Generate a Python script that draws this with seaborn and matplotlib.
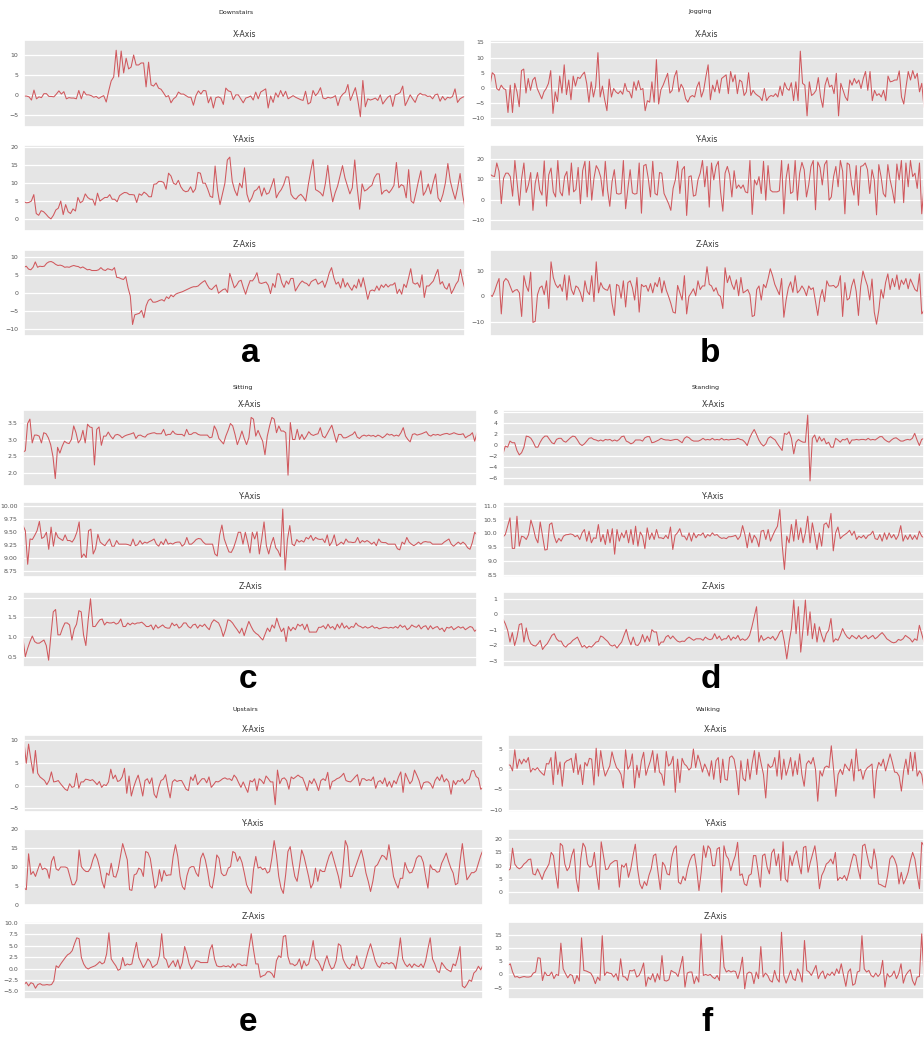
import numpy as np
import matplotlib
matplotlib.use("Agg")
import matplotlib.pyplot as plt
import seaborn as sns

# === Accelerometer samples per activity ===
downstairs_x = [-0.3, -0.3, -0.5, -1.3, 1.2, -1, -0.5, -0.7, 0.3, 0.3, -0.4, -0.4, -0.5, 0.2, 1, 0.2, 0.8, -1, -0.7, -0.8,
                -0.8, -1, 1.1, -1, 0.9, 0, 0, -0.2, -0.6, -0.4, -0.9, -0.5, -0.2, -1.8, 1, 3.5, 4.5, 11.2, 4.5, 11,
                5.5, 9.2, 6.5, 7, 10, 7.5, 7.5, 8, 8, 2, 8.2, 2.5, 2.2, 3, 1.7, 1.4, 0.5, -0.5, -0.2, -2,
                -1, -0.5, 0.7, 0.2, 0.2, -0.2, -0.6, -0.6, -2.6, -0.2, 1, 0.2, 1.1, 1, -2, -0.5, -3.3, -0.7, -0.5, -0.8,
                -2.4, 1.7, 1, 0.8, -1.2, 0,
                0, -1, -2, -0.8, -0.6, -0.3, -1.3, 0.7, -1, 0.7, 1.1, 1.5, -3.3, -0.3, -1.9, 0.5, -0.6, 1.1, -0.4, 0.9,
                -1, -0.6, -0.2, -0.6, -0.9, -1.2, -1.4, 0.9, -2.3, -1.9, 1.1, -0.2, 0.5, 1.8, -0.8, -1, -0.6, -0.8, -0.6, -0.2,
                -2.7, -0.6, 0.2, 0.7, 2.6, -1.4, 0.2, 1.8, -1.4, -5.5, 3.6, -3, -1, -1.3, -1.1, -0.8, -1.4, 0, -2.3, -1.4,
                -0.6, -0.2, -2.9, 0, 0.2, 0.6, 2.2, -2.7, -1.4, 0, -1, -1.9, -0.2, 0.4, 0, 0, -0.4, -0.3, -1, 0,
                0.2, -1.6, -0.4, -1.3, -0.6, -0.8, -0.4, 1.5, -1.9, -1, -0.6, -0.4]
downstairs_y = [4.8, 4.5, 4.6, 5, 6.8, 1.5, 1, 2.3, 2, 1.3, 0.5, 0, 1, 2.5, 3, 5, 1.2, 4, 2, 1.5,
                2.8, 2.2, 6, 4.5, 5, 7, 6, 5.5, 5.5, 3.8, 7.2, 5, 5.5, 6, 6, 6.8, 5.5, 5.5, 4.8, 6.5,
                7, 7.4, 7.3, 6.8, 6.8, 6.7, 4.6, 7, 6.6, 7.5, 7, 6.2, 6.2, 9.7, 9.8, 10.5, 10.5, 10.2, 8.3, 12.8,
                12, 10, 9.6, 10.8, 9, 8, 7.6, 7.8, 9, 7.4, 8.4, 13, 12.8, 10, 10, 8.3, 6.3, 6, 14.8, 8,
                4, 7, 10, 16.5, 17.3, 10.5, 8, 6.5, 10,
                8.7, 14.3, 6.9, 4.7, 5.9, 7.8, 8.2, 9.2, 6.4, 8.7, 6.9, 7.3, 9.2, 11.3, 5.9, 7.3, 8.2, 9.6, 11.8, 11.7,
                6.9, 5.9, 5.5, 6.4, 6.9, 6.1, 5, 9.4, 13.3, 16.6, 8.2, 7.8, 7.3, 6.4, 9.9, 15, 8.7, 4.8, 7.3, 9.2,
                12, 14.9, 11.5, 9.2, 7, 8.7, 16.5, 8.7, 2.7, 9.8, 7.8, 8.2, 8.9, 9.4, 11.5, 12.6, 12.6, 6.9, 7.8, 8.1,
                7.3, 8.2, 9.4, 15.8, 8.7, 9.6, 9.2, 5.9, 13.8, 5, 4.4, 7.3, 10.6, 13.5, 6.6, 7.8, 9.8, 7, 10.1, 12.6,
                5.9, 4.8, 6.9, 10.1, 15.5, 10.6, 7.8, 5.5, 8.7, 12.7, 6.9, 3.1]
downstairs_z = [7.2, 7.5, 6.7, 6.5, 7.2, 8.7, 7.2, 7.5, 7.4, 7.5, 8.3, 8.7, 8.8, 8.5, 8, 7.7, 7.8, 7.6, 7.2, 7.3,
                7.2, 7.5, 7.7, 7.5, 7.4, 7, 7.3, 6.9, 6.5, 6.6, 6.3, 6.3, 6.3, 6.5, 7.1, 6.5, 6.3, 6.8, 6.6, 6.4,
                7.1, 4.4, 4.3, 4.0, 3.8, 4.6, 1.5, -0.8, -8.7, -6, -5.8, -5.6, -4.8, -6.8, -3.5, -2, -1.6, -2.5, -2.5, -2.3,
                -2, -1.8, -2.2, -1, -1.5, -0.5, -1, -0.3, 0, 0.2, 0.4, 0.7, 1, 1.3, 1.6, 1.8, 1.8, 2, 2.6, 3.1,
                3.5, 2.3, 1.3, 1, 1.7, 2.3, 0, 0.5, 1, 1.2, 0.2, 5.5, 3.5, 1.5, 2.2, 3.3, 3.6, 1.5, -0.3, 1.8, 3.5,
                3.4, 4.3, 5.7, 2.9, 2.7, 2.9, 3.1, 2.2, -0.1, 2.7, 1.6, 5.4, 5.3, 2.9, 1.6, 3.4, 2.5, 4.1, 4.1, 0.6,
                1.7, 2.7, 3.4, 2.9, 2.7, 2, 3.2, 3.6, 3.9, 2.5, 2.9, 3.4, 1.6, 3.4, 5.7, 7.1, 4.3, 2.5, 3.1, 1.4,
                4.1, 1.7, 2.9, 1.7, 0.8, 2.3, 1.4, 3.9, 1.7, 4.3, 1.4, -1.7, 0.6, 0.9, 0.6, 2, 0.8, 2.3, 1.6, 2.5,
                1.7, 2.3, 2.3, 2.9, -0.1, 1.1, -0.3, 2.5, 1.6, 4.1, 6.8, 2.9, 2.5, 2.9, 1.6, 5.1, -1.2, 2, 2, 2.7,
                3.4, 5.1, 6.6, 2.5, 3.2, 1.6, 1.1, 2.7, -0.1, 1.1, 2.5, 3.4, 6.6, 3.4, 1.1]

jogging_x = [0.9, 5, 4.3, -0.2, -0.8, 0.9, -0.2, -0.6, -8.1, 0.9, -8.1, 1.5, -1.3, -6.2, 5.7, 6.2, -1.7, 3.1, -0.8, 2.6,
             3.5, -0.2, -1.9, -3.6, -1.3, -0.2, 1.5, 5.7, -8.4, -1.3, -4.5, 3.9, -1.7, 7.6, -2.2, 2.6, -3.9, 3.9, 0.6, 3.5,
             3.1, 4.3, 5.2, 1.5, -4.7, 2, -3, 0.6, 11.6, -3, 0.6, -3.9, -7.5, 2.9, -3, -0.2, -1.3, -1.9, -1, -2.1,
             1.5, -1, -1.3, -3.3, 2, -0.8, 2.4, -0.6, -0.2, -7.5, -4.2, -4.7, 2, -4.7, 9.3, -5.3, -0.6, 0.9, 2.8, 4.8,
             -1.7, -0.8, 3.7, 5.7, -1.3, 1.2, -0.2, -3.6, -4.7, -3, -2.5, -3, 0.3, 2,
             -3, -0.8, 3.7, 7.6, -3.9, 0.9, -1.3, 2.6, -1.7, 3.1, 3.7, 4.3, -1.9, 5.4, 2, 4.3, -1.9, 2.6, 2, -2.5,
             -1.3, 5, -2.5, -0.8, -1.9, -2.5, -3, -4.2, -0.2, -4.2, -3, -2.5, -2.8, -1.9, -3, 0.6, -2.5, 1.7, -0.2, -0.8,
             1.7, -4.2, 2, -4.2, 12.1, 1.5, 0.9, -9.2, 2, -2.5, -1.9, -0.8, 3.4, -3, -6.4, 0.9, 3.4, 0.3, 0.9, -1.9,
             4.8, -9.2, 1.5, -0.8, -3, -4.2, 2.6, 0.9, 3.1, 1.5, 2.6, -0.2, 3.1, 5.4, -0.8, 5.4, -4.2, -0.8, -2.5, -1.9,
             -3, -0.8, -4.2, 3.9, 2, 2.2, 2.6, 2.6, 5.6, -3, -5.3, 0.3, 5.4, 2.6, 5.7, 3.1, 4.8, -1.3, 1.5, -6.4]
jogging_y = [12.5, 11.7, 11.3, 18, 13.8, -2, 10.5, 13, 13, 11.3, 1.7, 19.2, 8, -2.8, 10.5, 18, 3.5, 7.2, 13.3, -5.3,
             8, 13.3, 4.7, 2.2, 19, -3.2, 12.2, 15.5, 3.8, 1.3, 19.2, 3.8, 1.8, 11.3, 13.8, 2.2, 18, 3.8, 5, 15.8,
             -2, 14.3, 18.8, 1.3, 18.8, -0.3, 10.5, 16.7, 14.7, 11, 1.7, 18.8, 4.7, -3.3, 8.8, 14.7, 3, 2.7, 3, 19.2,
             -4.5, 5.5, 14.7, 3.3, 2.7, 3, 18, -6.7, 16.7, 17.3, 10.5, 1.3, 18.8, 3, 2.2, 13.3, 13, 3, 0.5, -2,
             -5.3, 5.5, 9.7, 18.8, 3, 14.7, 16.3, -7.8, 11.3, 11.7, 1.7, 2.2, 9.7, 13, 19.2,
             6.3, 16.3, -3.7, 18, 9.7, 16.3, 18.8, 3.8, -5.7, 13, 16.3, 12.2, 1.3, 14.2, 5.5, 7.2, 5.5, 7.2, 3.8, 3.3,
             19.2, -7.3, 9.7, 7.2, 11.3, 3, 18.8, -0.3, 16.7, 4.7, 3.8, 3.8, 3.8, 4.3, 19.2, -7, 10.5, 17.5, 3, 3.8,
             19.2, -0.3, 13, 18.3, 14.7, 1.3, 7.2, 16.3, 19.2, -5, 18.5, 15.8, 7.2, 17.2, 19.2, -0.3, 1.3, 11.3, 16.3, 6.3,
             19.2, 14, -7, 18, 17.2, 7.2, 2.2, 16.7, -2.8, 16.3, 16.7, 18, 14.7, 3, 14.7, 9.7, -7.5, 17.2, 11.3, 3,
             1.3, 17.2, 9.7, 4.7, -1.7, 17.5, 9.7, 19.2, -1.5, 18, 6.3, 19.2, 11.3, 13, 5.5, 18, -7, 6.3]
jogging_z = [0.7, 0, 2, 4.7, 7, -6.8, 5.7, 7, 6.1, 3.8, 1.6, 2.4, 2.7, 1.4, -7.8, 8.1, 4.1, 2, 9.5, -10.1,
             -9.7, 0.7, 3.4, 4.1, 0.7, 6.1, -4.7, 13.5, 7.4, 4.7, 3.4, 4.7, 2, 8.4, -1.4, 8.1, 2.7, 0.7, 4.1, 3.4,
             1.4, -2, 6.1, 2, 0.7, 8.1, -2, 13.5, 1.4, 5.4, 3.4, 2.7, 2.4, 4.7, -2.7, -7.4, 4.7, 4.1, -0.7, 6.1,
             -4.1, 5.4, 6.1, 3.4, -1.4, 7.4, -6.1, 4.7, 3.8, 4.3, 2, 5, 1.4, 5.4, 3.8, 7.4, 1.4, 6.1, 2.4, 0,
             -2.7, -6.1, -6.5, 4.3, 1.4, -1.4, 8.1, -6.8, 0, 1.4, 3, 0.3, 6.1, 2.7, 4.1,
             4.1, 11.6, 4.7, 4.1, 2, 3.4, 0.7, 0, -4.7, 11.2, 5.4, 8.1, 4.7, 2.7, 6.5, 0.3, 7.4, 1.4, 2, 2.7,
             0.7, -7.8, -7.4, 2.7, 4.1, -1.4, 4.7, 3.4, 6.8, 10.8, 8.1, 4.7, 2.7, 0.7, 7, -8.1, -1.4, 3.4, 5.7, 1.6,
             8.1, 1.4, 2.4, 4.1, 2.7, 0.3, 4.1, 2.7, 3.4, -2, -7.4, -0.7, 2.7, -2, 6.1, 4.1, 4.1, 4.3, 3.4, 4.3,
             8.1, -7.8, 5.4, -1.4, -0.7, 4.1, 6.8, 2, -7.4, 4.1, 9.9, 6.8, 4.1, -1.4, 6.8, -6.1, -10.8, -5.4, 2.7, -0.7,
             5.4, 8.8, 2.7, 7, 3.8, 8.4, 2.7, 6.4, 4.7, 7, 3, 6.8, 4.7, 2.7, 2, 8.8, -6.8, -5.4]

sitting_x = [2.63, 2.67, 3.47, 3.6, 2.9, 3.13, 3.13, 3.1, 2.9, 3.2, 3.17, 3.05, 2.85, 2.5, 1.85, 2.77, 2.6, 2.8, 2.95, 2.9,
             2.88, 3, 3.4, 3.2, 2.9, 3, 3.27, 2.9, 3.45, 3.37, 3.35, 2.25, 3.3, 3.37, 2.83, 3.1, 3.1, 3.22, 3.1, 3.02,
             3.13, 3.15, 3.12, 3.05, 3.1, 3.13, 3.15, 3.17, 3.2, 3.03, 3.12, 3.13, 3.09, 3.07, 3.15, 3.17, 3.19, 3.2, 3.17, 3.17,
             3.17, 3.3, 3.12, 3.15, 3.15, 3.25, 3.17, 3.15, 3.15, 3.15, 3.1, 3.3, 3.15, 3.15, 3.2, 3.2, 3.15, 3.13, 3.13, 3.13,
             3.13, 3.05, 3.07, 3.4, 3.27, 3.03, 2.95, 2.87, 3.1, 3.27, 3.47, 3.4, 3.15, 2.85, 3.03,
             3.25, 3.03, 2.85, 3.05, 3.65, 3.6, 3.1, 3.27, 3.1, 2.95, 2.55, 3.1, 3.4, 3.65, 3.6, 3.2, 3.4, 3.25, 3.25, 3.2,
             1.95, 3.5, 3, 3, 3.3, 3, 3.15, 3, 3.1, 3.23, 3.15, 3.12, 3.15, 3.17, 3.35, 3.1, 3.05, 3.17, 3.3, 3.42,
             3.17, 2.92, 3.15, 3.15, 3.05, 3.05, 3.08, 3.12, 3.15, 3.23, 3.07, 3.03, 3.1, 3.13, 3.1, 3.13, 3.1, 3.12, 3.08, 3.13,
             3.1, 3.05, 3.1, 3.17, 3.13, 3.15, 3.1, 3.13, 3.1, 3.2, 3.35, 3.1, 3, 2.93, 3.15, 3.17, 3.13, 3.15, 3.17, 3.2,
             3.23, 3.13, 3.1, 3.15, 3.13, 3.15, 3.12, 3.15, 3.17, 3.18, 3.15, 3.17, 3.2, 3.17, 3.15, 3.15, 3.17, 3.05, 3.1, 3.13,
             3.2, 2.95, 3.2]
sitting_y = [9.63, 9.53, 8.88, 9.37, 9.36, 9.44, 9.53, 9.71, 9.38, 9.41, 9.5, 9.17, 9.6, 9.23, 9.5, 9.4, 9.37, 9.34, 9.45, 9.34,
             9.34, 9.31, 9.38, 9.5, 9.7, 9.01, 9.08, 9.01, 9.53, 9.56, 9.08, 9.18, 9.46, 9.31, 9.27, 9.24, 9.31, 9.37, 9.23, 9.23,
             9.34, 9.27, 9.27, 9.27, 9.27, 9.26, 9.24, 9.37, 9.24, 9.26, 9.34, 9.27, 9.31, 9.29, 9.32, 9.34, 9.37, 9.27, 9.23, 9.32,
             9.26, 9.37, 9.27, 9.29, 9.27, 9.3, 9.31, 9.31, 9.23, 9.27, 9.4, 9.27, 9.27, 9.31, 9.36, 9.38, 9.37, 9.31, 9.27, 9.27,
             9.27, 9.27, 9.08, 9.04, 9.44, 9.64, 9.37, 9.24, 9.12, 9.11, 9.2, 9.34, 9.5,
             9.5, 9.27, 9.5, 9.31, 9.1, 9.5, 9.37, 9.51, 9.08, 9.37, 9.7, 9.24, 9.08, 9.27, 9.4, 9.2, 9.14, 9.03, 9.95, 8.77,
             9.36, 9.63, 9.27, 9.24, 9.36, 9.31, 9.34, 9.31, 9.4, 9.37, 9.44, 9.34, 9.4, 9.37, 9.36, 9.37, 9.3, 9.45, 9.24, 9.31,
             9.45, 9.24, 9.27, 9.31, 9.27, 9.37, 9.31, 9.31, 9.3, 9.31, 9.4, 9.29, 9.34, 9.31, 9.34, 9.31, 9.27, 9.31, 9.24, 9.37,
             9.31, 9.3, 9.3, 9.27, 9.27, 9.27, 9.27, 9.18, 9.16, 9.31, 9.27, 9.4, 9.31, 9.27, 9.24, 9.27, 9.31, 9.27, 9.31, 9.32,
             9.31, 9.31, 9.27, 9.27, 9.27, 9.27, 9.27, 9.31, 9.34, 9.37, 9.27, 9.23, 9.27, 9.31, 9.27, 9.31, 9.27, 9.2, 9.17,
             9.3, 9.5, 9.45]
sitting_z = [0.97, 0.51, 0.72, 0.89, 1.03, 0.89, 0.85, 0.85, 0.89, 0.93, 0.79, 0.42, 1.06, 1.64, 1.7, 1.06, 1.06, 1.23, 1.36, 1.36,
             1.31, 0.93, 1.21, 1.33, 1.67, 1.64, 1.06, 0.79, 1.44, 1.97, 1.27, 1.27, 1.36, 1.44, 1.46, 1.31, 1.38, 1.36, 1.36, 1.38,
             1.33, 1.36, 1.46, 1.27, 1.27, 1.36, 1.31, 1.36, 1.33, 1.36, 1.36, 1.38, 1.33, 1.27, 1.27, 1.31, 1.19, 1.31, 1.23, 1.27,
             1.31, 1.25, 1.23, 1.23, 1.36, 1.29, 1.33, 1.23, 1.27, 1.36, 1.36, 1.27, 1.23, 1.31, 1.33, 1.23, 1.31, 1.27, 1.33, 1.25,
             1.19, 1.36, 1.44, 1.4, 1.36, 1.23, 1.02, 1.19, 1.44, 1.42, 1.36, 1.27, 1.19, 1.1,
             1.23, 1.04, 1.23, 1.4, 1.27, 1.16, 1.1, 1.06, 0.99, 0.93, 1.08, 1.23, 1.14, 1.31, 1.23, 1.48, 1.29, 1.14, 1.23, 0.89,
             1.27, 1.16, 1.25, 1.19, 1.33, 1.28, 1.33, 1.19, 1.33, 1.13, 1.13, 1.13, 1.13, 1.25, 1.25, 1.29, 1.21, 1.33, 1.23, 1.27,
             1.19, 1.33, 1.23, 1.36, 1.23, 1.29, 1.21, 1.27, 1.25, 1.36, 1.29, 1.27, 1.23, 1.27, 1.23, 1.25, 1.29, 1.23, 1.25, 1.21,
             1.23, 1.25, 1.25, 1.23, 1.25, 1.23, 1.27, 1.23, 1.31, 1.25, 1.29, 1.19, 1.23, 1.31, 1.27, 1.25, 1.31, 1.21, 1.27, 1.29,
             1.19, 1.29, 1.21, 1.25, 1.27, 1.19, 1.23, 1.14, 1.25, 1.23, 1.27, 1.19, 1.23, 1.27, 1.23, 1.26, 1.19, 1.23, 1.27,
             1.25, 1.15, 1.2]

standing_x = [-1.6, -0.2, -0.4, 0.7, 0.4, 0.4, -1, -1.8, -1.4, -0.4, 1.6, 1.5, 1.2, 0.5, -0.4, -0.4, 0.5, 1.2, 1.6, 1.6,
              1, 0.4, 0.2, 1, 1.2, 1.2, 0.7, 0.5, 0.9, 1.3, 1.6, 1.5, 0.9, 0.2, -0.1, 0.2, 0.7, 1.2, 1.3, 1,
              0.9, 0.7, 0.9, 0.7, 1, 0.9, 1, 0.7, 0.9, 0.7, 1, 1.5, 1.6, 0.7, 0.5, 0.2, 0.4, 0.9, 0.9, 0.9,
              0.7, 1.3, 1.5, 1.5, 0.4, 0.5, 0.7, 0.9, 1.2, 1, 0.9, 0.9, 0.8, 0.9, 1, 1, 0.7, 0.4, 1.2, 1.5,
              1.3, 0.9, 0.7, 0.7, 0.7,
              0.9, 1.2, 0.9, 1, 0.9, 1.2, 0.9, 1, 0.9, 1.2, 0.9, 1, 0.9, 1, 1, 1, 1.2, 1, 0.9, 0.5,
              -0.1, 1.2, 2.1, 2.8, 1.9, 0.9, 0.2, -0.2, 0.2, 1.2, 1.5, 1.2, 0.9, 0.2, -0.4, -1, 2.1, 1.9, 2.4, 1.2,
              -1.6, 0.5, 1, 0.7, 0.5, 0.5, 5.4, -6.5, 1.2, 1.8, 0.5, 1.5, 0.7, 1.2, 0.2, 0.5, -0.4, -0.4, 1.2, 0.9,
              0.5, 1, 0.9, 1.2, 0.2, 0.9, 0.9, 1, 0.9, 1, 1, 0.9, 1.2, 0.9, 1, 0.9, 1.2, 1.5, 1.5, 1,
              0.7, 0.5, 0.9, 1.2, 1.3, 1, 0.7, 0.7, 0.9, 1, 0.9, 1.2, 2.1, 0.9, -0.1, 1, 1.2]
standing_y = [9.87, 9.96, 10.26, 10.56, 9.46, 9.46, 10.62, 9.54, 9.9, 9.87, 9.78, 9.96, 10.48, 10.2, 9.84, 9.66, 10.41, 9.9, 9.4, 9.42,
              10.32, 10.38, 9.9, 9.66, 9.82, 9.72, 9.9, 9.95, 9.96, 9.98, 9.96, 9.88, 9.93, 9.78, 10.02, 10.14, 9.72, 10.08, 9.66, 9.84,
              9.82, 10.32, 9.7, 9.96, 9.6, 10.14, 9.66, 10.17, 9.25, 10.14, 9.72, 10.02, 9.84, 10.11, 9.66, 10.14, 9.6, 10.26, 9.54, 10.05,
              9.9, 9.45, 10.2, 9.78, 10.02, 9.78, 10.14, 9.84, 9.84, 9.81, 9.93, 9.81, 10.23, 9.42, 9.93, 10.02, 10.17, 9.9, 9.9, 9.76,
              10.02, 9.72, 10.02, 9.84, 9.96,
              9.93, 10.02, 9.84, 9.96, 9.9, 10.02, 9.93, 9.96, 9.87, 9.82, 9.84, 9.81, 9.88, 9.88, 9.9, 9.93, 9.78, 9.9, 10.28, 9.96,
              9.48, 10.02, 9.66, 9.93, 9.81, 9.52, 10.08, 10.11, 9.78, 10.14, 9.72, 9.93, 10.11, 10.26, 10.86, 9.6, 8.7, 9.9, 9.66, 10.32,
              9.72, 10.5, 9.78, 10.2, 9.66, 10.02, 10.62, 9.66, 10.38, 9.93, 9.42, 10.02, 9.54, 10.32, 10.38, 10.2, 10.72, 9.37, 10.02, 10.23,
              9.81, 9.9, 9.96, 10.02, 10.11, 9.93, 10.08, 9.78, 9.9, 9.84, 9.93, 9.81, 9.93, 9.96, 10.08, 9.81, 9.78, 9.96, 9.72, 10.02,
              9.78, 10.02, 9.84, 9.96, 9.78, 9.93, 10.28, 9.72, 9.93, 9.78, 9.96, 9.78, 9.93, 9.78, 10.08, 9.9, 9.84]
standing_z = [-0.3, -0.6, -1.02, -1.78, -1.17, -2, -1.46, -0.65, -0.59, -1.78, -0.87, -1.57, -1.89, -2, -2.04, -1.89, -1.67, -2.26, -2.04, -1.89,
              -1.63, -1.35, -1.24, -1.57, -1.72, -1.72, -2, -2.11, -1.93, -1.85, -1.67, -1.57, -1.46, -1.78, -2.11, -2, -2.17, -2.04, -2.11, -1.96,
              -1.78, -1.74, -1.39, -1.46, -1.61, -1.74, -1.96, -2.04, -1.96, -2.17, -1.96, -1.78, -1.35, -0.96, -1.57, -1.96, -1.46, -1.96, -2, -1.78,
              -1.3, -1.78, -1.39, -1.74, -0.98, -1.13, -1.13, -2, -1.78, -1.78, -1.46, -1.35, -1.57, -1.39, -1.57, -1.72, -1.78, -1.72, -1.74, -1.57,
              -1.46, -1.57, -1.67, -1.57, -1.57,
              -1.57, -1.67, -1.46, -1.57, -1.63, -1.57, -1.24, -1.57, -1.39, -1.67, -1.57, -1.57, -1.35, -1.67, -1.46, -1.57, -1.35, -1.67, -1.57, -1.67,
              -1.57, -1.35, -0.8, -0.15, 0.5, -1.78, -1.35, -1.67, -1.57, -1.46, -1.57, -1.41, -1.67, -1.46, -1.13, -1.02, -1.78, -2.87, -1.78, -0.91,
              0.93, -1.24, 0.5, -2.43, -0.91, 0.93, -1.35, 0.17, -1.57, -0.59, -1.78, -0.8, -1.35, -1.78, -1.24, -1.02, -0.26, -1.78, -1.57, -1.67,
              -1.35, -0.91, -1.24, -1.46, -1.57, -1.35, -1.46, -1.57, -1.35, -1.57, -1.46, -1.35, -1.57, -1.46, -1.35, -1.57, -1.46, -1.3, -1.17, -1.35,
              -1.57, -1.67, -1.78, -1.83, -1.78, -1.61, -1.67, -1.57, -1.35, -1.46, -1.57, -1.78, -1.57, -1.67, -0.7, -1.24, -1.78]

upstairs_x = [9.5, 4.9, 9.1, 5.7, 2.7, 7.7, 2.7, 1.9, 1.5, 1.1, 0.2, 1.1, 3, 0.8, 0.9, 1.1, 0.4, -0.2, -0.8, -1.1,
              0.4, -0.4, -0.2, 2.7, -0.6, 0.8, 0.8, 1.4, 1.3, 1.1, 1.3, 0.8, 0.2, 0.9, -0.4, 0.2, 0, 0.8, 3.6, 1.5,
              2.3, 0.9, 1.1, 1.9, 3.8, -1.7, 2.1, -2.3, -0.4, 1.1, 2.3, 0.2, -2.3, 1.1, 1.5, 0.4, 1.7, -1.9, -2.7, -0.4,
              1.1, 1.4, 2.4, -0.4, -2.7, 0.8, 1.3, 0.9, 1.1, 1.1, 0.2, -0.8, -1.1, 1.9, 1.1, 2.4, 0.2, 0.9, 1.5, 1.5,
              0.6, 1.9, -0.4, 0.2, 0.9, 0.8, 1.1, 1.5, 1.7, 1.4, 1.5, 1.1, 2.3, 1.7, 0.6, -0.4,
              0.8, -0.4, -1.5, 1.1, 0.8, 1.5, -1.1, 1.5, 1.1, 0.4, 2.1, 1.5, 0.8, 0.8, -4.2, 3.4, 0.4, 1.5, 1.7, 1.1,
              -0.8, 1.9, 1.5, 1.9, 2.3, 1.9, 1.7, 0.4, -1.1, 1.1, 0.4, 1.5, 0.4, -1.1, 1.1, 1.5, 1.1, 2.9, -0.8, 0.9,
              1.1, 1.5, 1.7, 2.1, 2.7, 1.1, 0.9, 0.8, 1.3, 1.9, 2.4, 0, 1.5, 1.5, 1.1, 1.3, 1.1, 1.9, -0.6, 0.8,
              1.1, 0.4, 1.7, -0.2, 0.9, -0.4, 1.1, 0.4, 1.9, 3, -1.5, 2.7, 1.5, 0.4, 1.1, 3.4, 2.3, 1.1, -0.8, 0.6,
              0.8, 0.8, 0.4, -0.6, 1.1, 1.9, 1.1, 2.4, 0.8, 1.5, 0.8, -1.9, 1.1, 0.2, 1.1, 0.9, 1.5, 0.4, 1.1,
              1.4, 3.2, 3.3, 2, 1.6, -0.8, -0.5]
upstairs_y = [4.4, 4, 13.5, 8, 8.8, 7.5, 9.3, 11, 9.3, 9.7, 9.3, 7, 11.5, 12.8, 9.5, 9.1, 10, 10, 10, 9.7,
              7.5, 5.3, 5.3, 6.6, 14.5, 10.1, 9.3, 8.8, 8.8, 9.7, 11.9, 13.5, 12.1, 9.7, 6.2, 4.4, 8.4, 7.8, 11, 7.5,
              7.3, 9.3, 12.8, 16.2, 14.1, 11.9, 4, 3.8, 7.9, 8.2, 9.7, 9.3, 7.5, 14.1, 13.8, 12.3, 8.4, 4.4, 5.3, 9.3,
              6.2, 9.1, 7.7, 7.9, 7.9, 12.8, 15.9, 12.8, 7.5, 4.8, 4, 7.7, 9.7, 10.1, 10.1, 8.4, 7.5, 12.3, 13.7, 11.9,
              8.8, 5, 4.4, 7.9, 13.2, 12.3, 8.4, 7.7, 7.9, 9.7, 10.1, 14.1, 13.7, 11.5, 12.8,
              11.2, 8.4, 5.3, 4, 3.0, 9.3, 12.8, 9.7, 10, 9.3, 9.7, 8.4, 8.8, 12.3, 17, 13.1, 7.5, 4.4, 3.0, 7.9,
              14.1, 15.4, 11, 7.5, 6.2, 10.1, 14.5, 12.8, 10.1, 7.5, 4.4, 5.7, 9.7, 6.2, 9.3, 8.8, 8.8, 11, 13, 14.1,
              11.9, 9.7, 7.5, 4.4, 10.1, 17, 15.4, 7.5, 7.5, 9.3, 11, 12.8, 14.5, 11.9, 8.4, 6.2, 3.5, 6.2, 10.1, 10.6,
              11.9, 13.1, 12.8, 11.9, 15.9, 11.9, 7.5, 5.7, 4.4, 7, 7, 11.2, 9.4, 8.4, 8.6, 10.1, 12.3, 13, 12.8, 11.2,
              7.5, 4.4, 10.6, 9.4, 9.3, 8.6, 8.8, 11, 12.3, 13.7, 11.5, 9.7, 8.4, 5.3, 5.7, 11.5, 16.2, 11, 6.6,
              7.5, 8.5, 8.5, 9, 11, 13, 14.5]
upstairs_z = [-3.5, -3, -3.8, -3.1, -3.3, -4.3, -3.5, -3.3, -3.6, -3.6, -3.5, -3.6, -3.5, -2.7, 0.6, 0.2, 1, 1.7, 2.4, 3,
              3.3, 3.9, 5.4, 6.7, 6.5, 2.4, 1, 0.2, -0.1, 0.2, 0.4, 0.6, 1, 1.5, 1, 1.3, 3.2, 7.8, 2.1, 1.3,
              0.6, -0.4, -0.1, 2.4, 0.6, 1, 0.8, 1, 3.5, 5.7, 2.4, 1.3, 0.2, 1, 2.1, 1.5, 0.2, 0.6, 1, 2.8,
              7.6, 2.4, 1.9, 0.2, 1, 1.7, 0.4, 1.9, -0.1, 1.3, 4.8, 3.2, 1, -0.1, 0.6, 1.7, 1.6, 1.3, 1.3, 1.3,
              1.3, 4.1, 5.2, 2.1, 0.6, 0.4, 0.4, 0.6, 0.4, 0.6, 0.2, 1, 0.2, 1,
              1, 0.6, 0.8, 0.6, 4.3, 7.6, 4.1, 1, 1, -1.9, -1.6, -1.4, -0.7, -0.7, -1.1, -2, 1.7, 2.8, 2.4, 7,
              7.2, 2.6, 1, 1, 0.6, 1, 2.1, -0.1, 1.7, 0.6, 1, 3.2, 6.1, 2.1, 1.7, 0.7, -0.5, 1.3, 2.8, 1,
              -0.1, 0.2, 1.7, 5.4, 5, 2.1, 1, 0.2, -0.1, 1, 0.6, 2.8, 0.6, -0.1, 0.2, 2.1, 3.9, 5.4, 3.6, 1.7,
              0.6, 0.2, 1.3, 1, 1.3, 1, 1.3, 1, -0.1, 2.8, 6.7, 2.1, 1, 0.4, 1, 0.2, 1, 0.6, 0.4, 1,
              0.2, 1.7, 4.3, 6.7, 2.1, 1, -0.5, -0.9, 1.3, 0.6, -0.1, -0.4, -0.7, 1, 0.6, 2.4, 4.8, -3.8, -4.2,
              -3.5, -2.5, -2.8, -1, -0.5, 0.5, -0.3, 0.8]

walking_x = [1.1, 1, -0.4, 4.8, 0.2, 2.5, 1.3, 2.5, 1.7, 2.9, -0.7, 0.2, -0.2, 0.4, -0.4, -1, -1.5, 1.4, 1.3, 2.9,
             -3.8, 4.3, -1.3, 1.8, -4.2, 1.5, 2.1, 2.3, 2.7, -0.8, 3.9, -1.3, 1.1, -3.8, 1.7, 0.8, 2.7, 2.5, -3.9, 5.2,
             -1.7, 4.6, 0.8, -1.7, -0.4, 0.8, 4.3, 2.1, 0.4, -0.2, -1.3, -4.6, 4.8, 0, 1, 3.8, -4.6, 1, -2.1, 2.1,
             4.2, -1.5, 0.4, 2.1, 4.6, -0.8, 3.8, -0.7, -1.3, -4, 4.4, 0.8, 1.4, 3.2, -5.7, 2.5, -3.3, 2.7, 1.3, 0.8,
             -0.2, 0.4, 5, 0.4, 3.5, 1.7, -0.7, 1.3,
             0, -1.7, 2.1, -2.5, 2.1, 2.9, -3.3, 2.5, -2.5, -2.7, 2.9, 3.3, 2.5, -0.7, -6.3, 2.1, -2.3, -2.9, 2.5, -2.5,
             1.5, 4.6, -1.3, 4.2, 1.3, -1.3, -7.1, 1.3, 0.4, 0.8, 2.9, -1.7, 4.6, -2.5, 2.5, -1.5, 0.4, 2.9, -1.7, 2.1,
             -1.3, 3.8, -1.3, -4.2, 1.3, 2.1, 1.3, 2.9, 0, -7.9, -0.4, -1.7, 0.4, 0.8, 0.4, 5.8, 0, -6.7, -1.3, 0,
             -1.3, 1.3, 0.4, -0.4, 2.5, -2.9, 5, -0.4, 0, -2.5, -0.4, 0.4, 0.8, 1.3, -7.1, -0.4, 1.7, 0.8, 2.5, -0.4,
             1.7, 3.8, 1.7, -0.7, -0.8, -1.7, -5.4, -0.4, 2.5, -1.3, 4.2, -0.4, 4.2, -1.7, -0.4, -1.3, -5]
walking_y = [8.1, 8.8, 16.6, 10.6, 9.4, 8.8, 9.4, 10.6, 11.3, 12.3, 12.5, 6.9, 6.5, 8.8, 6.9, 4.8, 7.5, 9, 10.6, 15,
             13.8, 6.9, 1.5, 18.4, 17.5, 10.6, 8.1, 9.4, 13.8, 16.3, 5, 0.3, 12.5, 18.5, 16.9, 10.6, 9.4, 10, 15, 6.9,
             1, 19, 13.8, 8.5, 8.8, 10.6, 11.3, 11.9, 11.9, 1.9, 10.3, 9.4, 10.9, 5.6, 8.8, 13.8, 18.1, 8.8, 3.1, 1.3,
             4, 2.5, 6.3, 8.8, 13.8, 14.4, 7.5, 1, 11.3, 10, 6.9, 6.5, 13.1, 16.3, 17.5, 3.8, 3.1, 6, 4.4, 8.8,
             11.9, 13.8, 14.4, 8.8, 0.6, 7.5, 17.5,
             13.1, 17.5, 16.3, 10, 10, 16.3, 16.9, 0, 17.5, 13.8, 12.5, 8.1, 11.3, 13.8, 18.8, 6.3, 6.9, 3.1, 2.5, 6.3,
             6.9, 13.8, 13.8, 8.1, 1.9, 13.8, 14.4, 9.4, 6.9, 14.8, 16.3, 10, 14.4, 4.4, 19, 5, 3.8, 13.8, 10, 13.8,
             15.6, 10.6, 6.9, 16.9, 17.3, 7.5, 11.3, 14.4, 17.5, 11, 1.3, 6.3, 8.1, 10.6, 11.3, 12.5, 10.6, 15, 4.4, 5.6,
             5, 6.3, 4.4, 7.5, 11.3, 14.4, 13.8, 8.8, 5, 17.5, 18.1, 13.8, 10, 8.8, 16.3, 11.9, 3.1, 2.8, 2.3, 1.9,
             6.3, 12.5, 13.8, 12.5, 10, 3.1, 7.5, 3.1, 5, 7.5, 11.9, 15, 12.5, 6.5, 1.3, 18.8, 17.5]
walking_z = [3.4, 4, 0.9, -1, -0.8, -1.3, -1, -0.8, -1, -1, -0.8, 0.5, 0.9, 6.3, 6.1, -2.3, 0.9, -0.4, -0.4, 0.9,
             -1.6, 0, -0.4, 11.8, 2.1, 0.3, -1.3, 0, -0.4, -3.5, -0.4, -2.5, 13.8, 1.5, 1.3, 0.9, 0.5, -1, -3.5, -1,
             -2.3, 14.6, -0.4, 0.9, 0.5, 0.3, -1, 0.3, -2.3, 5.9, -0.8, -1, -2.3, 1.5, 1.3, 1.8, -1, -0.4, 1.5, 4.3,
             -4.5, -1, -2, 0.3, -2.9, 0.3, -2, 7.1, -2.3, -2.5, -2, 1.5, 0.9, 0.5, -0.8, 2.8, 6.8, -4.8, 0.5, 0.9,
             0.9, -3.5, -0.8, -2.9, 15.3,
             -0.4, 0, -0.4, 0, -1, -1.6, -0.4, -2.3, 14.6, 2.8, 0.9, 1.5, 0.9, 1.3, 1.1, -1.6, 1.5, 6.5, -5.4, 0.3,
             0.9, 0.5, -3.5, 0.9, -1.6, 10.5, -1, 0.5, -0.4, -2.3, -2.9, 1.5, -1.6, -2.9, 15.9, -0.4, -3.3, -1, 1.5, -1.6,
             -2.3, 2.1, 0.3, -2.9, 12.8, 1.5, 0.9, -0.4, 1.5, 3.4, -1.6, 0.3, 1.3, -1.6, 0.3, -0.4, 0.9, -0.4, 2.1, 0.3,
             4, -0.4, -4.5, 0.9, 2.1, -4.1, -3.5, 0.9, 1.3, 14.6, 2.1, 0.9, 1.5, -0.4, -1, 0.5, -0.8, 0.3, 5.3, -4.8,
             0.3, -1, -0.4, 1.3, -1.6, 0.3, 4, -3.3, -0.4, 0.9, 1.8, -2.3, -4.1, -1, -0.8, 15.3, -1]

activities = ["Downstairs", "Jogging", "Sitting", "Standing", "Upstairs", "Walking"]
panel_letters = ["a", "b", "c", "d", "e", "f"]
axis_names = ["X-Axis", "Y-Axis", "Z-Axis"]
signals = {
    "Downstairs": [downstairs_x, downstairs_y, downstairs_z],
    "Jogging": [jogging_x, jogging_y, jogging_z],
    "Sitting": [sitting_x, sitting_y, sitting_z],
    "Standing": [standing_x, standing_y, standing_z],
    "Upstairs": [upstairs_x, upstairs_y, upstairs_z],
    "Walking": [walking_x, walking_y, walking_z],
}
yticks = {
    "Downstairs": [[-5, 0, 5, 10], [0, 5, 10, 15, 20], [-10, -5, 0, 5, 10]],
    "Jogging": [[-10, -5, 0, 5, 10, 15], [-10, 0, 10, 20], [-10, 0, 10]],
    "Sitting": [[2.0, 2.5, 3.0, 3.5], [8.75, 9.0, 9.25, 9.5, 9.75, 10.0], [0.5, 1.0, 1.5, 2.0]],
    "Standing": [[-6, -4, -2, 0, 2, 4, 6], [8.5, 9.0, 9.5, 10.0, 10.5, 11.0], [-3, -2, -1, 0, 1]],
    "Upstairs": [[-5, 0, 5, 10], [0, 5, 10, 15, 20], [-5.0, -2.5, 0.0, 2.5, 5.0, 7.5, 10.0]],
    "Walking": [[-10, -5, 0, 5], [0, 5, 10, 15, 20], [-5, 0, 5, 10, 15]],
}

# === Style ===
sns.set_theme(style="darkgrid", rc={
    "axes.facecolor": "#E5E5E5",
    "grid.color": "white",
    "grid.linewidth": 0.9,
    "ytick.labelsize": 4.5,
    "ytick.color": "#555555",
    "axes.titlesize": 5.5,
    "axes.titlecolor": "#333333",
})
plt.rcParams["font.family"] = ["DejaVu Sans"]
LINE = "#D0585D"

# === Layout in pixels: axes x-range, three (top, bottom) bands, title pos, letter pos ===
W, H = 924, 1039
row_bands = [
    [(40, 127), (145, 231), (250, 336)],
    [(410, 486), (502, 577), (592, 667)],
    [(735, 812), (829, 905), (922, 999)],
]
x_ranges = [(24, 465), (490, 924), (23, 477), (503, 924), (24, 483), (508, 924)]
title_pos = [(236, 12), (700, 12), (243, 387), (706, 387), (245, 710), (708, 710)]
letter_pos = [(250, 362), (710, 362), (248, 688), (711, 688), (248, 1031), (707, 1031)]

fig = plt.figure(figsize=(W / 100, H / 100), dpi=100)

for i, act in enumerate(activities):
    x0, x1 = x_ranges[i]
    for j, (vals, ticks) in enumerate(zip(signals[act], yticks[act])):
        top, bot = row_bands[i // 2][j]
        ax = fig.add_axes([x0 / W, 1 - bot / H, (x1 - x0) / W, (bot - top) / H])
        y = np.asarray(vals, dtype=float)
        t = np.arange(len(y))
        sns.lineplot(x=t, y=y, ax=ax, color=LINE, linewidth=0.75)
        ax.set_title(axis_names[j], pad=2)
        ax.xaxis.set_visible(False)
        ax.set_xlim(t.min(), t.max())
        ax.set_yticks(ticks)
        sd = np.std(y)
        ax.set_ylim(y.min() - sd, y.max() + sd)
        ax.set_ylabel("")
        ax.tick_params(axis="y", length=0, pad=4)
    tx, ty = title_pos[i]
    fig.text(tx / W, 1 - ty / H, act, ha="center", va="center", fontsize=4.5, color="#222222")
    lx, ly = letter_pos[i]
    fig.text(lx / W, 1 - ly / H, panel_letters[i], ha="center", va="baseline", color="black",
             fontsize=24, fontweight="bold", family=["Liberation Sans", "DejaVu Sans"])

fig.savefig("out.png", dpi=100)
